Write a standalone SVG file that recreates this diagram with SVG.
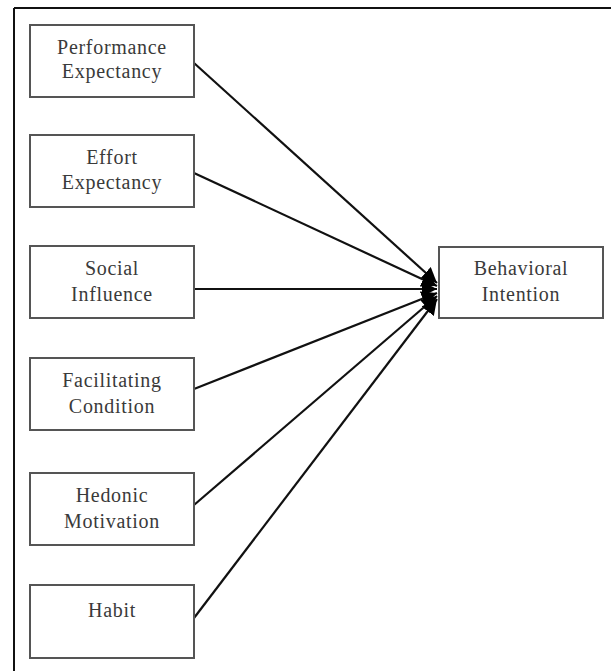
<svg xmlns="http://www.w3.org/2000/svg" width="611" height="671" viewBox="0 0 611 671">
<defs>
<style>
.box{fill:#fff;stroke:#555;stroke-width:2}
.t{font-family:"Liberation Serif","Times New Roman",serif;font-size:20px;fill:#3a3a3a;text-anchor:middle;letter-spacing:0.7px}
.c{stroke:#111;stroke-width:2.2;fill:none;marker-end:url(#ah)}
</style>
<marker id="ah" viewBox="0 0 10 10" refX="10" refY="5" markerWidth="7" markerHeight="7" markerUnits="strokeWidth" orient="auto">
<path d="M0,0 L10,5 L0,10 Z" fill="#000"/>
</marker>
</defs>
<rect width="611" height="671" fill="#fff"/>
<g id="frame">
<path d="M14,8 H611 M14,8 V671" stroke="#111" stroke-width="2" fill="none"/>
</g>
<g id="connectors">
<line class="c" x1="194" y1="63" x2="437" y2="283"/>
<line class="c" x1="194" y1="173" x2="437" y2="286"/>
<line class="c" x1="194" y1="289" x2="437" y2="289"/>
<line class="c" x1="194" y1="389" x2="437" y2="293"/>
<line class="c" x1="194" y1="505" x2="437" y2="296"/>
<line class="c" x1="194" y1="618" x2="437" y2="299"/>
</g>
<g id="performance">
<rect class="box" x="30" y="25" width="164" height="72"/>
<text class="t" x="112" y="54">Performance</text>
<text class="t" x="112" y="78">Expectancy</text>
</g>
<g id="effort">
<rect class="box" x="30" y="135" width="164" height="72"/>
<text class="t" x="112" y="164">Effort</text>
<text class="t" x="112" y="189">Expectancy</text>
</g>
<g id="social">
<rect class="box" x="30" y="246" width="164" height="72"/>
<text class="t" x="112" y="275">Social</text>
<text class="t" x="112" y="301">Influence</text>
</g>
<g id="facilitating">
<rect class="box" x="30" y="358" width="164" height="72"/>
<text class="t" x="112" y="387">Facilitating</text>
<text class="t" x="112" y="413">Condition</text>
</g>
<g id="hedonic">
<rect class="box" x="30" y="473" width="164" height="72"/>
<text class="t" x="112" y="502">Hedonic</text>
<text class="t" x="112" y="528">Motivation</text>
</g>
<g id="habit">
<rect class="box" x="30" y="585" width="164" height="73"/>
<text class="t" x="112" y="617">Habit</text>
</g>
<g id="behavioral">
<rect class="box" x="439" y="247" width="164" height="71"/>
<text class="t" x="521" y="275">Behavioral</text>
<text class="t" x="521" y="301">Intention</text>
</g>
</svg>
